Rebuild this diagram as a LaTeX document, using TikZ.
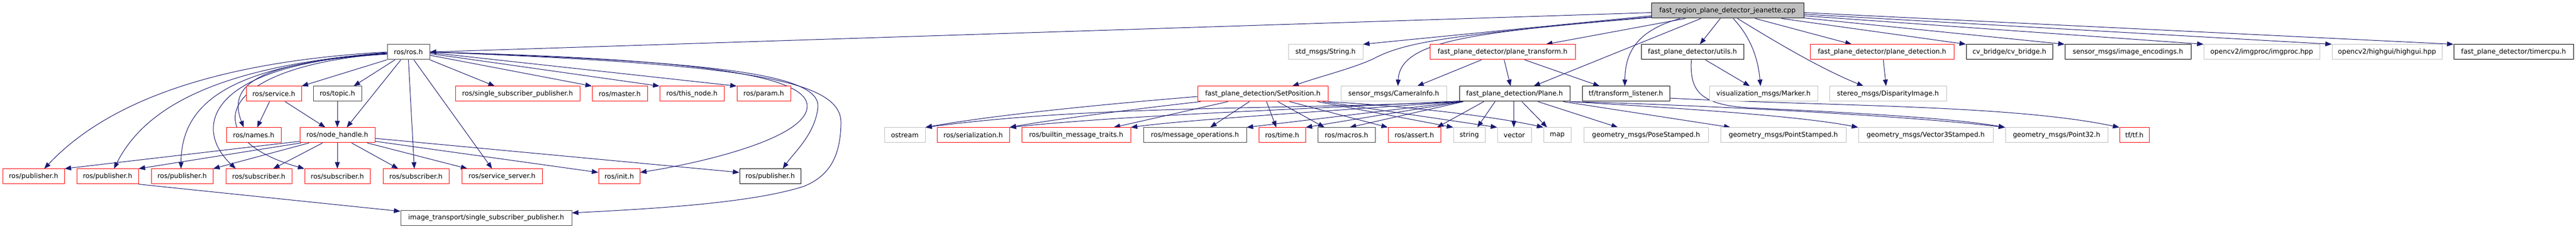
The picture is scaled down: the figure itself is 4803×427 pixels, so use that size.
\documentclass[tikz,border=0pt]{standalone}
\usepackage{fontspec}
\newfontfamily\dvfont{DejaVu Sans}
\newcommand\nodefont{\dvfont\fontsize{12.5}{15}\selectfont}
\usetikzlibrary{calc,arrows.meta}
\definecolor{edgec}{HTML}{191970}
\definecolor{redc}{HTML}{FF0000}
\definecolor{grayc}{HTML}{BFBFBF}
\definecolor{darkc}{HTML}{404040}
\pgfdeclarelayer{background}
\pgfsetlayers{background,main}
\begin{document}
\begin{tikzpicture}[x=1pt,y=-1pt,
  box/.style={rectangle, line width=1pt, inner sep=0pt, minimum height=28pt, font=\nodefont, fill=white, text=black},
  redn/.style={box, draw=redc},
  grayn/.style={box, draw=grayc},
  blkn/.style={box, draw=black},
  dkn/.style={box, draw=darkc},
  rootn/.style={box, draw=black, fill=grayc},
  dep/.style={draw=edgec, line width=1pt, -{Triangle[length=12pt,width=9pt]}}]
\useasboundingbox (0,0) rectangle (4803,427);
% row 1
\node[rootn, minimum width=284pt] (root) at (3221,20) {fast\_region\_plane\_detector\_jeanette.cpp};
% row 2
\node[dkn, minimum width=79pt] (rosros) at (761.5,97) {ros/ros.h};
\node[grayn, minimum width=139pt] (stdstring) at (2471.5,97) {std\_msgs/String.h};
\node[redn, minimum width=271pt] (ptrans) at (2801.5,97) {fast\_plane\_detector/plane\_transform.h};
\node[blkn, minimum width=191pt] (utils) at (3155.5,97) {fast\_plane\_detector/utils.h};
\node[redn, minimum width=268pt] (pdet) at (3509,97) {fast\_plane\_detector/plane\_detection.h};
\node[blkn, minimum width=161pt] (cvb) at (3746.5,97) {cv\_bridge/cv\_bridge.h};
\node[blkn, minimum width=235pt] (enc) at (3967.5,97) {sensor\_msgs/image\_encodings.h};
\node[grayn, minimum width=216pt] (imgproc) at (4217,97) {opencv2/imgproc/imgproc.hpp};
\node[grayn, minimum width=205pt] (highgui) at (4450.5,97) {opencv2/highgui/highgui.hpp};
\node[blkn, minimum width=223pt] (timer) at (4686.5,97) {fast\_plane\_detector/timercpu.h};
% row 3
\node[redn, minimum width=103pt] (service) at (510.5,175) {ros/service.h};
\node[dkn, minimum width=90pt] (topic) at (629,175) {ros/topic.h};
\node[redn, minimum width=232pt] (ssp) at (965,175) {ros/single\_subscriber\_publisher.h};
\node[redn, minimum width=103pt] (master) at (1155.5,175) {ros/master.h};
\node[redn, minimum width=120pt] (thisnode) at (1290,175) {ros/this\_node.h};
\node[redn, minimum width=100pt] (param) at (1424,175) {ros/param.h};
\node[redn, minimum width=243pt] (setpos) at (2354.5,175) {fast\_plane\_detection/SetPosition.h};
\node[grayn, minimum width=197pt] (caminfo) at (2598.5,175) {sensor\_msgs/CameraInfo.h};
\node[blkn, minimum width=206pt] (plane) at (2824,175) {fast\_plane\_detection/Plane.h};
\node[blkn, minimum width=163pt] (tfl) at (3031.5,175) {tf/transform\_listener.h};
\node[grayn, minimum width=202pt] (marker) at (3288,175) {visualization\_msgs/Marker.h};
\node[grayn, minimum width=218pt] (disp) at (3520,175) {stereo\_msgs/DisparityImage.h};
% row 4
\node[redn, minimum width=102pt] (names) at (473,252) {ros/names.h};
\node[redn, minimum width=140pt] (nh) at (629,252) {ros/node\_handle.h};
\node[grayn, minimum width=76pt] (ostream) at (1687,252) {ostream};
\node[redn, minimum width=135pt] (serial) at (1814.5,252) {ros/serialization.h};
\node[redn, minimum width=203pt] (builtin) at (2006.5,252) {ros/builtin\_message\_traits.h};
\node[dkn, minimum width=192pt] (msgops) at (2228,252) {ros/message\_operations.h};
\node[redn, minimum width=87pt] (time) at (2390.5,252) {ros/time.h};
\node[dkn, minimum width=107pt] (macros) at (2510.5,252) {ros/macros.h};
\node[redn, minimum width=98pt] (assert) at (2637,252) {ros/assert.h};
\node[grayn, minimum width=59pt] (string) at (2739.5,252) {string};
\node[grayn, minimum width=63pt] (vector) at (2823.5,252) {vector};
\node[grayn, minimum width=51pt] (map) at (2903.5,252) {map};
\node[grayn, minimum width=232pt] (pose) at (3069,252) {geometry\_msgs/PoseStamped.h};
\node[grayn, minimum width=234pt] (pointst) at (3325,252) {geometry\_msgs/PointStamped.h};
\node[grayn, minimum width=251pt] (vec3) at (3590.5,252) {geometry\_msgs/Vector3Stamped.h};
\node[grayn, minimum width=191pt] (p32) at (3834.5,252) {geometry\_msgs/Point32.h};
\node[redn, minimum width=55pt] (tftf) at (3979.5,252) {tf/tf.h};
% row 5
\node[redn, minimum width=115pt] (pub1) at (62.5,329) {ros/publisher.h};
\node[redn, minimum width=115pt] (pub2) at (200.5,329) {ros/publisher.h};
\node[redn, minimum width=115pt] (pub3) at (339.5,329) {ros/publisher.h};
\node[redn, minimum width=123pt] (sub1) at (482.5,329) {ros/subscriber.h};
\node[redn, minimum width=122pt] (sub2) at (629,329) {ros/subscriber.h};
\node[redn, minimum width=123pt] (sub3) at (775.5,329) {ros/subscriber.h};
\node[redn, minimum width=150pt] (srvsrv) at (936,329) {ros/service\_server.h};
\node[redn, minimum width=77pt] (init) at (1154.5,329) {ros/init.h};
\node[blkn, minimum width=114pt] (pubb) at (1436,329) {ros/publisher.h};
% row 6
\node[dkn, minimum width=319pt] (imgtr) at (906.5,406.5) {image\_transport/single\_subscriber\_publisher.h};

\begin{pgfonlayer}{background}
% ---- root edges
\draw[dep] ($(root.north west)+(0,18)$) -- (rosros.east);
\draw[dep] ($(root.north west)+(0,24)$) -- (stdstring.north east);
\draw[dep] ($(root.north west)+(0,26)$) .. controls (2700,66) and (2620,78) .. (2560,110) .. controls (2520,128) and (2470,140) .. ($(setpos.north west)+(177,0)$);
\draw[dep] ($(root.north west)+(0,27)$) .. controls (2750,60) and (2610,75) .. ($(caminfo.north west)+(107,0)$);
\draw[dep] ($(root.south west)+(64,0)$) -- ($(ptrans.north west)+(217,0)$);
\draw[dep] ($(root.south west)+(93,0)$) -- ($(plane.north west)+(139,0)$);
\draw[dep] ($(root.south west)+(54,0)$) .. controls (3060,55) and (3030,90) .. ($(tfl.north west)+(80,0)$);
\draw[dep] ($(root.south west)+(129,0)$) -- ($(utils.north west)+(110,0)$);
\draw[dep] ($(root.south west)+(153,0)$) .. controls (3265,70) and (3278,110) .. ($(marker.north west)+(96,0)$);
\draw[dep] ($(root.south west)+(161,0)$) .. controls (3330,90) and (3400,130) .. ($(disp.north west)+(64,0)$);
\draw[dep] ($(root.south west)+(194,0)$) -- ($(pdet.north west)+(78,0)$);
\draw[dep] ($(root.south west)+(243,0)$) -- (cvb.north west);
\draw[dep] ($(root.south east)+(0,-1)$) -- (enc.north west);
\draw[dep] ($(root.south east)+(0,-5)$) -- (imgproc.north west);
\draw[dep] ($(root.south east)+(0,-8)$) -- (highgui.north west);
\draw[dep] ($(root.south east)+(0,-11)$) -- (timer.north west);

% ---- ros/ros.h edges
\draw[dep] (rosros.west) .. controls (400,115) and (200,190) .. ($(pub1.north west)+(78,0)$);
\draw[dep] ($(rosros.west)+(0,1)$) .. controls (450,120) and (280,180) .. ($(pub2.north west)+(70,0)$);
\draw[dep] ($(rosros.west)+(0,2)$) .. controls (450,120) and (338,180) .. ($(pub3.north west)+(56,0)$);
\draw[dep] ($(rosros.west)+(0,3)$) .. controls (380,120) and (360,240) .. ($(sub1.north west)+(19,0)$);
\draw[dep] ($(rosros.west)+(0,3)$) .. controls (390,125) and (370,260) .. (sub2.north west);
\draw[dep] ($(rosros.west)+(0,4)$) .. controls (500,115) and (420,150) .. ($(names.north west)+(33,0)$);
\draw[dep] (rosros.south west) -- (service.north east);
\draw[dep] ($(rosros.south west)+(15,0)$) -- ($(topic.north west)+(76,0)$);
\draw[dep] ($(rosros.south west)+(26,0)$) -- ($(nh.north west)+(88,0)$);
\draw[dep] ($(rosros.south west)+(40,0)$) -- ($(sub3.north west)+(59,0)$);
\draw[dep] ($(rosros.south west)+(50,0)$) -- ($(srvsrv.north west)+(57,0)$);
\draw[dep] (rosros.south east) -- ($(ssp.north west)+(74,0)$);
\draw[dep] ($(rosros.east)+(0,6)$) -- (master.north west);
\draw[dep] ($(rosros.east)+(0,3)$) -- (thisnode.north west);
\draw[dep] ($(rosros.east)+(0,1)$) -- (param.north west);
\draw[dep] (rosros.east) .. controls (1300,110) and (1510,140) .. (1505,200) .. controls (1500,260) and (1300,305) .. ($(init.north east)+(0,7)$);
\draw[dep] (rosros.east) .. controls (1350,115) and (1530,140) .. (1525,200) .. controls (1520,250) and (1480,285) .. ($(pubb.north west)+(81,0)$);
\draw[dep] (rosros.east) .. controls (1400,120) and (1570,150) .. (1568,230) .. controls (1567,300) and (1540,330) .. (1500,347) .. controls (1400,380) and (1200,390) .. ($(imgtr.north east)+(0,5)$);

% ---- service / topic
\draw[dep] ($(service.south west)+(44,0)$) -- ($(names.north west)+(58,0)$);
\draw[dep] ($(service.south west)+(73,0)$) -- ($(nh.north west)+(48,0)$);
\draw[dep] (topic.south) -- (nh.north);

% ---- node_handle
\draw[dep] ($(nh.south west)+(0,-3)$) -- (pub1.north east);
\draw[dep] ($(nh.south west)+(3,0)$) -- (pub2.north east);
\draw[dep] ($(nh.south west)+(18,0)$) -- (pub3.north east);
\draw[dep] ($(nh.south west)+(43,0)$) -- ($(sub1.north west)+(89,0)$);
\draw[dep] (nh.south) -- (sub2.north);
\draw[dep] ($(nh.south west)+(97,0)$) -- ($(sub3.north west)+(29,0)$);
\draw[dep] ($(nh.south west)+(126,0)$) -- ($(srvsrv.north west)+(11,0)$);
\draw[dep] ($(nh.south east)+(0,-3)$) -- ($(init.north west)+(0,7)$);
\draw[dep] ($(nh.east)+(0,6)$) -- ($(pubb.north west)+(0,7)$);
\draw[dep] (pub2.south east) -- ($(imgtr.north west)+(0,2)$);

% ---- SetPosition
\draw[dep] ($(setpos.west)+(0,5)$) .. controls (2050,195) and (1850,215) .. (ostream.north east);
\draw[dep] ($(setpos.south west)+(6,0)$) .. controls (2100,205) and (1950,225) .. (serial.north east);
\draw[dep] ($(setpos.south west)+(57,0)$) -- ($(builtin.north west)+(172,0)$);
\draw[dep] ($(setpos.south west)+(97,0)$) -- ($(msgops.north west)+(125,0)$);
\draw[dep] ($(setpos.south west)+(129,0)$) -- ($(time.north west)+(33,0)$);
\draw[dep] ($(setpos.south west)+(150,0)$) -- ($(macros.north west)+(13,0)$);
\draw[dep] ($(setpos.south west)+(172,0)$) -- (assert.north west);
\draw[dep] ($(setpos.south west)+(224,0)$) -- (string.north west);
\draw[dep] ($(setpos.south west)+(234,0)$) -- (vector.north west);
\draw[dep] (setpos.south east) .. controls (2650,200) and (2800,220) .. (map.north west);

% ---- Plane
\draw[dep] (plane.south west) .. controls (2400,205) and (2050,195) .. (ostream.north east);
\draw[dep] ($(plane.south west)+(0,-1)$) .. controls (2400,205) and (2100,215) .. (serial.north east);
\draw[dep] ($(plane.south west)+(2,0)$) .. controls (2400,212) and (2200,225) .. (builtin.north east);
\draw[dep] ($(plane.south west)+(4,0)$) -- (msgops.north east);
\draw[dep] ($(plane.south west)+(6,0)$) -- (time.north east);
\draw[dep] ($(plane.south west)+(8,0)$) -- ($(macros.north west)+(60,0)$);
\draw[dep] ($(plane.south west)+(46,0)$) -- ($(assert.north west)+(92,0)$);
\draw[dep] ($(plane.south west)+(67,0)$) -- ($(string.north west)+(45,0)$);
\draw[dep] ($(plane.south west)+(102,0)$) -- ($(vector.north west)+(31,0)$);
\draw[dep] ($(plane.south west)+(117,0)$) -- ($(map.north west)+(7,0)$);
\draw[dep] ($(plane.south west)+(147,0)$) -- ($(pose.north west)+(64,0)$);
\draw[dep] ($(plane.south west)+(194,0)$) -- ($(pointst.north west)+(19,0)$);
\draw[dep] (plane.south east) .. controls (3100,200) and (3350,215) .. (vec3.north west);
\draw[dep] (plane.south east) .. controls (3150,195) and (3550,215) .. (p32.north west);

% ---- others
\draw[dep] ($(tfl.east)+(0,8)$) .. controls (3400,198) and (3750,195) .. (tftf.north west);
\draw[dep] ($(utils.south west)+(120,0)$) -- ($(marker.north west)+(76,0)$);
\draw[dep] ($(utils.south west)+(94,0)$) .. controls (3150,170) and (3170,195) .. (3260,201) .. controls (3500,212) and (3650,222) .. (p32.north west);
\draw[dep] ($(ptrans.south west)+(139,0)$) -- ($(plane.north west)+(96,0)$);
\draw[dep] ($(ptrans.south west)+(177,0)$) -- ($(tfl.north west)+(33,0)$);
\draw[dep] ($(ptrans.south west)+(97,0)$) -- ($(caminfo.north west)+(143,0)$);
\draw[dep] ($(pdet.south west)+(137,0)$) -- ($(disp.north west)+(106,0)$);
\end{pgfonlayer}
\end{tikzpicture}
\end{document}
